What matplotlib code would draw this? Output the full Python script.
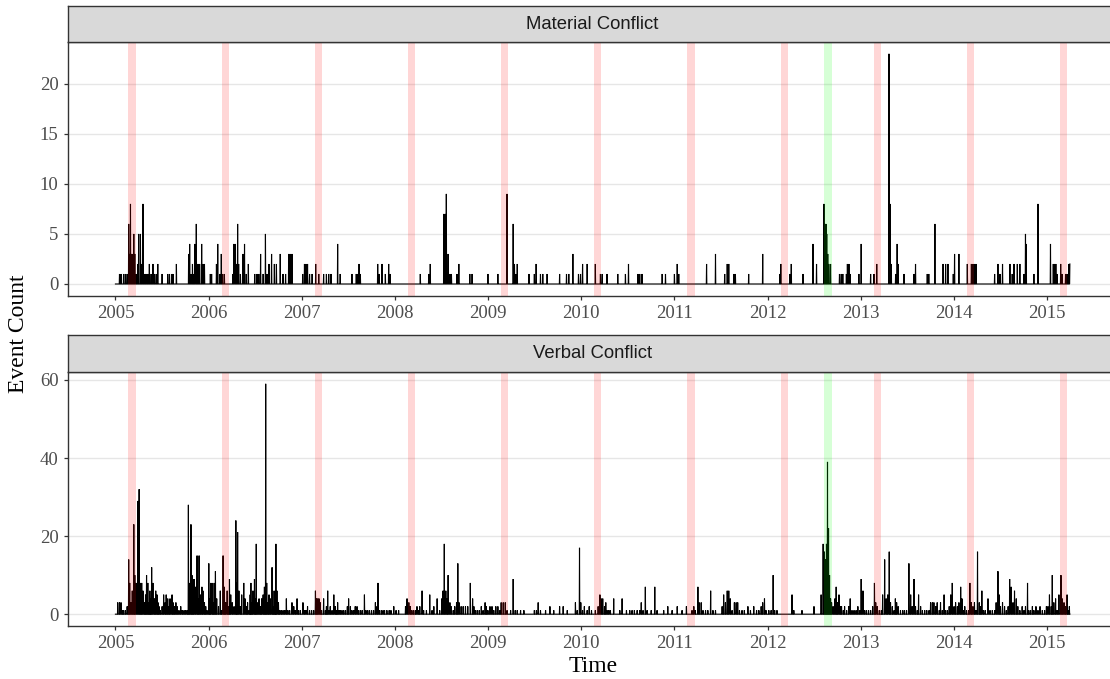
import numpy as np
import matplotlib
matplotlib.use("Agg")
import matplotlib.pyplot as plt
import matplotlib.dates as mdates

# ---------------------------------------------------------------------------
# Daily event counts (days not listed have zero events); time in decimal years
# ---------------------------------------------------------------------------
series_start = "2005-01-01"
series_end = "2015-03-31"

material_time = [
    2005.043, 2005.061, 2005.089, 2005.107, 2005.125, 2005.143, 2005.154, 2005.161, 2005.172, 2005.182,
    2005.197, 2005.208, 2005.225, 2005.240, 2005.250, 2005.268, 2005.279, 2005.297, 2005.308, 2005.322,
    2005.340, 2005.351, 2005.365, 2005.383, 2005.404, 2005.419, 2005.437, 2005.454, 2005.501, 2005.562,
    2005.580, 2005.608, 2005.619, 2005.655, 2005.787, 2005.798, 2005.812, 2005.827, 2005.841, 2005.852,
    2005.869, 2005.880, 2005.891, 2005.905, 2005.927, 2005.941, 2005.955,
    2006.020, 2006.034, 2006.084, 2006.098, 2006.120, 2006.138, 2006.152, 2006.170, 2006.259, 2006.270,
    2006.288, 2006.302, 2006.313, 2006.324, 2006.342, 2006.370, 2006.385, 2006.406, 2006.428, 2006.496,
    2006.521, 2006.539, 2006.560, 2006.585, 2006.610, 2006.628, 2006.649, 2006.678, 2006.707, 2006.728,
    2006.771, 2006.800, 2006.828, 2006.861, 2006.878, 2006.896,
    2007.011, 2007.029, 2007.047, 2007.064, 2007.086, 2007.111, 2007.150, 2007.183, 2007.236, 2007.265,
    2007.290, 2007.315, 2007.387, 2007.415, 2007.540, 2007.587, 2007.601, 2007.616, 2007.630, 2007.816,
    2007.834, 2007.862, 2007.898, 2007.934, 2007.952,
    2008.274, 2008.363, 2008.381, 2008.524, 2008.542, 2008.553, 2008.571, 2008.589, 2008.607, 2008.667,
    2008.685, 2008.803, 2008.828, 2008.997,
    2009.104, 2009.204, 2009.269, 2009.283, 2009.297, 2009.311, 2009.437, 2009.497, 2009.515, 2009.562,
    2009.587, 2009.634, 2009.766, 2009.841, 2009.866, 2009.909, 2009.970, 2009.991,
    2010.013, 2010.063, 2010.152, 2010.206, 2010.224, 2010.278, 2010.392, 2010.474, 2010.507, 2010.607,
    2010.628, 2010.653, 2010.868, 2010.904,
    2011.000, 2011.029, 2011.047, 2011.344, 2011.440, 2011.541, 2011.566, 2011.583, 2011.637, 2011.655,
    2011.798, 2011.948,
    2012.131, 2012.142, 2012.238, 2012.253, 2012.381, 2012.485, 2012.525, 2012.603, 2012.614, 2012.625,
    2012.635, 2012.646, 2012.657, 2012.675, 2012.771, 2012.789, 2012.807, 2012.843, 2012.854, 2012.872,
    2012.882, 2012.979,
    2013.004, 2013.104, 2013.140, 2013.169, 2013.301, 2013.312, 2013.326, 2013.373, 2013.390, 2013.401,
    2013.462, 2013.569, 2013.587, 2013.713, 2013.730, 2013.795, 2013.881, 2013.909, 2013.934, 2013.992,
    2014.006, 2014.052, 2014.142, 2014.185, 2014.203, 2014.220, 2014.235, 2014.435, 2014.471, 2014.493,
    2014.521, 2014.600, 2014.625, 2014.643, 2014.679, 2014.707, 2014.750, 2014.768, 2014.775, 2014.857,
    2014.900,
    2015.036, 2015.065, 2015.079, 2015.093, 2015.108, 2015.144, 2015.162, 2015.197, 2015.215, 2015.233,
    2015.244,
]
material_count = [
    1, 1, 1, 1, 1, 6, 3, 8, 3, 3,
    5, 3, 1, 2, 5, 5, 2, 8, 1, 1,
    1, 1, 2, 1, 2, 1, 1, 2, 1, 1,
    1, 1, 1, 2, 3, 4, 1, 2, 1, 4,
    6, 2, 2, 2, 4, 2, 2,
    1, 1, 2, 4, 1, 3, 1, 1, 1, 4,
    4, 2, 6, 2, 1, 3, 4, 1, 2, 1,
    1, 1, 3, 1, 5, 1, 2, 3, 2, 2,
    3, 1, 1, 3, 3, 3,
    1, 2, 2, 2, 1, 1, 2, 1, 1, 1,
    1, 1, 4, 1, 1, 1, 1, 2, 1, 2,
    1, 2, 1, 2, 1,
    1, 1, 2, 7, 7, 9, 3, 1, 1, 1,
    2, 1, 1, 1,
    1, 9, 6, 2, 1, 2, 1, 1, 2, 1,
    1, 1, 1, 1, 1, 3, 1, 1,
    2, 2, 2, 1, 1, 1, 1, 1, 2, 1,
    1, 1, 1, 1,
    1, 2, 1, 2, 3, 1, 2, 2, 1, 1,
    1, 3,
    1, 2, 1, 2, 1, 4, 2, 8, 6, 6,
    5, 3, 2, 2, 1, 1, 1, 1, 2, 2,
    1, 1,
    4, 1, 1, 2, 23, 8, 2, 1, 4, 2,
    1, 1, 2, 1, 1, 6, 2, 2, 2, 1,
    3, 3, 2, 2, 2, 2, 2, 1, 2, 1,
    2, 2, 1, 2, 2, 2, 1, 5, 4, 1,
    8,
    4, 2, 2, 2, 1, 2, 1, 1, 1, 2,
    2,
]

verbal_time = [
    2005.025, 2005.043, 2005.061, 2005.075, 2005.089, 2005.107, 2005.125, 2005.143, 2005.154, 2005.168,
    2005.182, 2005.197, 2005.208, 2005.222, 2005.240, 2005.254, 2005.268, 2005.283, 2005.297, 2005.311,
    2005.322, 2005.333, 2005.347, 2005.358, 2005.369, 2005.379, 2005.390, 2005.404, 2005.419, 2005.433,
    2005.447, 2005.458, 2005.469, 2005.483, 2005.501, 2005.519, 2005.533, 2005.544, 2005.562, 2005.576,
    2005.587, 2005.608, 2005.619, 2005.633, 2005.648, 2005.662, 2005.683, 2005.701, 2005.719, 2005.737,
    2005.755, 2005.773, 2005.784, 2005.798, 2005.812, 2005.823, 2005.834, 2005.844, 2005.859, 2005.877,
    2005.887, 2005.898, 2005.912, 2005.930, 2005.941, 2005.955, 2005.970, 2005.984,
    2006.002, 2006.013, 2006.023, 2006.038, 2006.048, 2006.059, 2006.073, 2006.088, 2006.106, 2006.127,
    2006.141, 2006.156, 2006.170, 2006.184, 2006.199, 2006.213, 2006.224, 2006.238, 2006.256, 2006.274,
    2006.292, 2006.302, 2006.313, 2006.327, 2006.342, 2006.356, 2006.378, 2006.392, 2006.406, 2006.420,
    2006.435, 2006.446, 2006.456, 2006.467, 2006.478, 2006.492, 2006.503, 2006.513, 2006.528, 2006.542,
    2006.556, 2006.571, 2006.585, 2006.599, 2006.614, 2006.624, 2006.639, 2006.649, 2006.664, 2006.682,
    2006.692, 2006.703, 2006.714, 2006.724, 2006.735, 2006.750, 2006.764, 2006.782, 2006.800, 2006.818,
    2006.836, 2006.853, 2006.871, 2006.896, 2006.914, 2006.932, 2006.950, 2006.968, 2006.986,
    2007.014, 2007.032, 2007.047, 2007.064, 2007.086, 2007.107, 2007.129, 2007.147, 2007.158, 2007.172,
    2007.186, 2007.200, 2007.215, 2007.236, 2007.254, 2007.265, 2007.279, 2007.294, 2007.308, 2007.326,
    2007.344, 2007.362, 2007.372, 2007.387, 2007.401, 2007.415, 2007.433, 2007.451, 2007.472, 2007.490,
    2007.505, 2007.522, 2007.540, 2007.558, 2007.576, 2007.594, 2007.612, 2007.630, 2007.648, 2007.673,
    2007.691, 2007.709, 2007.730, 2007.752, 2007.773, 2007.791, 2007.809, 2007.820, 2007.834, 2007.855,
    2007.873, 2007.891, 2007.916, 2007.941, 2007.959, 2007.988,
    2008.013, 2008.041, 2008.115, 2008.131, 2008.149, 2008.167, 2008.184, 2008.202, 2008.220, 2008.238,
    2008.256, 2008.267, 2008.292, 2008.310, 2008.338, 2008.374, 2008.399, 2008.417, 2008.453, 2008.481,
    2008.503, 2008.517, 2008.531, 2008.546, 2008.560, 2008.571, 2008.589, 2008.603, 2008.625, 2008.642,
    2008.660, 2008.675, 2008.689, 2008.710, 2008.732, 2008.757, 2008.782, 2008.810, 2008.832, 2008.846,
    2008.861, 2008.882, 2008.904, 2008.925, 2008.946, 2008.968, 2008.982, 2008.997,
    2009.018, 2009.040, 2009.061, 2009.083, 2009.104, 2009.126, 2009.140, 2009.161, 2009.183, 2009.204,
    2009.240, 2009.269, 2009.290, 2009.311, 2009.347, 2009.383, 2009.497, 2009.519, 2009.537, 2009.562,
    2009.616, 2009.662, 2009.705, 2009.766, 2009.805, 2009.848, 2009.938, 2009.956, 2009.981, 2009.995,
    2010.013, 2010.034, 2010.063, 2010.084, 2010.109, 2010.152, 2010.181, 2010.199, 2010.213, 2010.231,
    2010.249, 2010.263, 2010.278, 2010.295, 2010.313, 2010.349, 2010.413, 2010.439, 2010.485, 2010.521,
    2010.546, 2010.571, 2010.600, 2010.628, 2010.643, 2010.664, 2010.689, 2010.707, 2010.750, 2010.789,
    2010.814, 2010.886, 2010.929, 2010.975,
    2011.029, 2011.083, 2011.129, 2011.190, 2011.208, 2011.226, 2011.251, 2011.265, 2011.287, 2011.308,
    2011.333, 2011.358, 2011.390, 2011.415, 2011.440, 2011.512, 2011.530, 2011.548, 2011.566, 2011.583,
    2011.601, 2011.619, 2011.645, 2011.662, 2011.680, 2011.698, 2011.727, 2011.752, 2011.788, 2011.816,
    2011.852, 2011.881, 2011.906, 2011.931, 2011.948, 2011.966, 2011.984,
    2012.013, 2012.038, 2012.060, 2012.077, 2012.102, 2012.263, 2012.281, 2012.370, 2012.496, 2012.574,
    2012.596, 2012.610, 2012.621, 2012.632, 2012.643, 2012.653, 2012.664, 2012.675, 2012.685, 2012.703,
    2012.721, 2012.735, 2012.750, 2012.764, 2012.778, 2012.793, 2012.811, 2012.825, 2012.846, 2012.868,
    2012.886, 2012.904, 2012.925, 2012.947, 2012.968, 2012.990,
    2013.004, 2013.022, 2013.040, 2013.061, 2013.083, 2013.104, 2013.126, 2013.144, 2013.158, 2013.176,
    2013.197, 2013.219, 2013.233, 2013.255, 2013.272, 2013.287, 2013.304, 2013.319, 2013.337, 2013.355,
    2013.369, 2013.383, 2013.401, 2013.426, 2013.448, 2013.469, 2013.491, 2013.516, 2013.534, 2013.552,
    2013.569, 2013.587, 2013.605, 2013.620, 2013.641, 2013.659, 2013.684, 2013.706, 2013.731, 2013.749,
    2013.767, 2013.784, 2013.802, 2013.820, 2013.842, 2013.856, 2013.874, 2013.892, 2013.910, 2013.928,
    2013.949, 2013.964, 2013.981, 2013.999,
    2014.017, 2014.035, 2014.053, 2014.071, 2014.085, 2014.099, 2014.114, 2014.135, 2014.157, 2014.171,
    2014.185, 2014.203, 2014.220, 2014.235, 2014.253, 2014.271, 2014.285, 2014.300, 2014.314, 2014.335,
    2014.364, 2014.386, 2014.411, 2014.436, 2014.453, 2014.471, 2014.486, 2014.500, 2014.521, 2014.543,
    2014.561, 2014.582, 2014.597, 2014.615, 2014.632, 2014.650, 2014.668, 2014.686, 2014.707, 2014.732,
    2014.750, 2014.768, 2014.790, 2014.804, 2014.822, 2014.840, 2014.857, 2014.879, 2014.900, 2014.922,
    2014.947, 2014.972, 2014.993,
    2015.008, 2015.026, 2015.044, 2015.054, 2015.072, 2015.090, 2015.108, 2015.126, 2015.147, 2015.162,
    2015.180, 2015.197, 2015.215, 2015.226, 2015.237,
]
verbal_count = [
    3, 3, 3, 1, 1, 1, 2, 14, 8, 3,
    6, 23, 10, 8, 29, 32, 8, 8, 6, 3,
    5, 10, 8, 3, 6, 4, 12, 8, 4, 6,
    5, 3, 2, 1, 2, 5, 3, 5, 4, 2,
    4, 5, 3, 2, 3, 2, 1, 2, 1, 1,
    1, 1, 28, 8, 23, 10, 4, 9, 7, 15,
    4, 15, 5, 7, 6, 3, 2, 1,
    13, 4, 8, 8, 3, 8, 11, 4, 2, 6,
    1, 15, 7, 3, 6, 2, 9, 5, 3, 2,
    24, 8, 21, 6, 2, 5, 8, 4, 2, 3,
    1, 5, 8, 3, 6, 9, 4, 18, 3, 4,
    2, 4, 5, 7, 59, 8, 3, 5, 4, 12,
    2, 6, 5, 18, 6, 3, 1, 1, 1, 1,
    4, 1, 1, 3, 2, 1, 4, 1, 1,
    3, 1, 1, 2, 1, 1, 1, 6, 4, 4,
    4, 3, 1, 4, 1, 2, 6, 1, 2, 1,
    5, 2, 1, 3, 1, 1, 1, 1, 1, 2,
    4, 2, 1, 1, 2, 2, 1, 1, 1, 5,
    1, 1, 1, 1, 1, 3, 2, 8, 1, 1,
    1, 1, 1, 1, 1, 2,
    1, 1, 2, 4, 3, 2, 1, 1, 1, 2,
    1, 2, 6, 1, 1, 5, 1, 2, 4, 1,
    4, 6, 18, 6, 4, 10, 3, 2, 1, 2,
    3, 13, 3, 2, 2, 2, 2, 8, 4, 2,
    1, 1, 1, 2, 1, 3, 2, 1,
    2, 2, 1, 2, 2, 1, 3, 3, 3, 1,
    1, 9, 1, 1, 1, 1, 1, 1, 3, 1,
    1, 2, 1, 2, 2, 1, 3, 1, 17, 3,
    1, 2, 1, 2, 1, 1, 2, 5, 4, 4,
    2, 3, 1, 1, 1, 4, 1, 4, 1, 1,
    1, 1, 1, 1, 3, 1, 7, 1, 1, 7,
    1, 1, 2, 1,
    2, 1, 2, 1, 2, 1, 7, 3, 3, 1,
    1, 1, 6, 1, 1, 2, 5, 3, 6, 6,
    4, 1, 3, 3, 3, 1, 1, 1, 2, 1,
    2, 1, 1, 2, 3, 4, 1,
    1, 1, 10, 1, 1, 5, 1, 1, 2, 5,
    18, 16, 14, 18, 39, 22, 10, 4, 3, 2,
    4, 7, 3, 5, 2, 2, 1, 2, 1, 2,
    4, 1, 1, 1, 2, 1,
    9, 6, 1, 1, 1, 1, 2, 8, 3, 2,
    1, 1, 5, 14, 4, 5, 16, 3, 2, 1,
    4, 3, 2, 1, 1, 1, 1, 13, 5, 2,
    9, 2, 1, 5, 2, 1, 1, 1, 1, 3,
    3, 3, 2, 3, 1, 3, 1, 5, 1, 1,
    2, 5, 8, 2,
    3, 2, 3, 7, 4, 1, 2, 1, 1, 8,
    3, 2, 3, 1, 16, 3, 2, 6, 1, 1,
    4, 1, 1, 1, 3, 11, 5, 2, 3, 2,
    1, 2, 9, 7, 3, 6, 4, 2, 1, 2,
    1, 2, 8, 1, 1, 2, 1, 2, 1, 2,
    1, 1, 2,
    2, 5, 2, 10, 3, 4, 1, 5, 10, 4,
    3, 2, 5, 1, 2,
]

panel_titles = ["Material Conflict", "Verbal Conflict"]

# Shaded periods: four weeks leading up to each Nowruz, plus one event window
red_band_years = list(range(2005, 2016))
red_band_start = "02-21"
red_band_end = "03-21"
green_band_start = "2012-08-11"
green_band_end = "2012-09-08"

year_ticks = list(range(2005, 2016))
material_yticks = [0, 5, 10, 15, 20]
verbal_yticks = [0, 20, 40, 60]


def daily_counts(times, counts):
    days = np.arange(np.datetime64(series_start), np.datetime64(series_end) + np.timedelta64(1, "D"))
    values = np.zeros(len(days))
    for t, c in zip(times, counts):
        year = int(t)
        first = np.datetime64(f"{year}-01-01")
        length = (np.datetime64(f"{year + 1}-01-01") - first).astype(int)
        day = first + np.timedelta64(int(round((t - year) * length)), "D")
        idx = int((day - days[0]).astype(int))
        if 0 <= idx < len(days):
            values[idx] = max(values[idx], c)
    return mdates.date2num(days.astype("datetime64[D]").astype(object)), values


def dnum(s):
    return mdates.date2num(np.datetime64(s).astype(object))


W, H = 1110, 679
fig = plt.figure(figsize=(W / 100, H / 100), dpi=100)

SERIF = ["Liberation Serif", "DejaVu Serif"]
SANS = ["Liberation Sans", "DejaVu Sans"]
DARK = "#333333"

x0, x1 = dnum(series_start), dnum(series_end)
pad = 0.05 * (x1 - x0)
xlim = (x0 - pad, x1 + pad)

left_px = 67.7
right_px = 1117.6


def px_axes(l, t, r, b):
    return fig.add_axes([l / W, 1 - b / H, (r - l) / W, (b - t) / H])


layout = [
    # strip top, strip bottom / panel top, panel bottom
    (6.0, 42.3, 295.5),
    (335.0, 372.3, 625.7),
]
datasets = [
    (material_time, material_count, material_yticks),
    (verbal_time, verbal_count, verbal_yticks),
]

for (st, pt, pb), (times, counts, yticks), title in zip(layout, datasets, panel_titles):
    ax = px_axes(left_px, pt, right_px, pb)
    x, y = daily_counts(times, counts)
    ax.plot(x, y, color="black", lw=0.8, zorder=3, solid_joinstyle="miter")

    for yr in red_band_years:
        ax.axvspan(dnum(f"{yr}-{red_band_start}"), dnum(f"{yr}-{red_band_end}"),
                   color="#ff0000", alpha=0.16, lw=0, zorder=4)
    ax.axvspan(dnum(green_band_start), dnum(green_band_end),
               color="#00ff00", alpha=0.16, lw=0, zorder=4)

    ymax = max(counts)
    ax.set_ylim(-0.05 * ymax, 1.05 * ymax)
    ax.set_xlim(*xlim)
    ax.set_yticks(yticks)
    ax.set_yticklabels([str(v) for v in yticks])
    ax.set_xticks([dnum(f"{yr}-01-01") for yr in year_ticks])
    ax.set_xticklabels([str(yr) for yr in year_ticks])
    ax.yaxis.grid(True, color="#E6E6E6", lw=1.0, zorder=0)
    ax.xaxis.grid(False)
    ax.set_axisbelow(True)
    for sp in ax.spines.values():
        sp.set_color(DARK)
        sp.set_linewidth(1.0)
        sp.set_zorder(5)
    ax.tick_params(axis="both", length=3.2, width=0.9, color=DARK, pad=3.5,
                   labelsize=13.5, labelcolor="#4D4D4D")
    for lab in ax.get_xticklabels() + ax.get_yticklabels():
        lab.set_family(SERIF)

    sx = px_axes(left_px, st, right_px, pt)
    sx.set_facecolor("#D9D9D9")
    sx.set_xticks([])
    sx.set_yticks([])
    for sp in sx.spines.values():
        sp.set_color(DARK)
        sp.set_linewidth(1.0)
    sx.text(0.5, 0.5, title, transform=sx.transAxes, ha="center", va="center",
            fontsize=13.3, color="#1A1A1A", family=SANS)

fig.text((left_px + right_px) / 2 / W, 1 - 666 / H, "Time", ha="center", va="center",
         fontsize=17, family=SERIF, color="black")
fig.text(19 / W, 1 - 334 / H, "Event Count", ha="center", va="center", rotation=90,
         fontsize=17, family=SERIF, color="black")

fig.savefig("out.png", dpi=100)
